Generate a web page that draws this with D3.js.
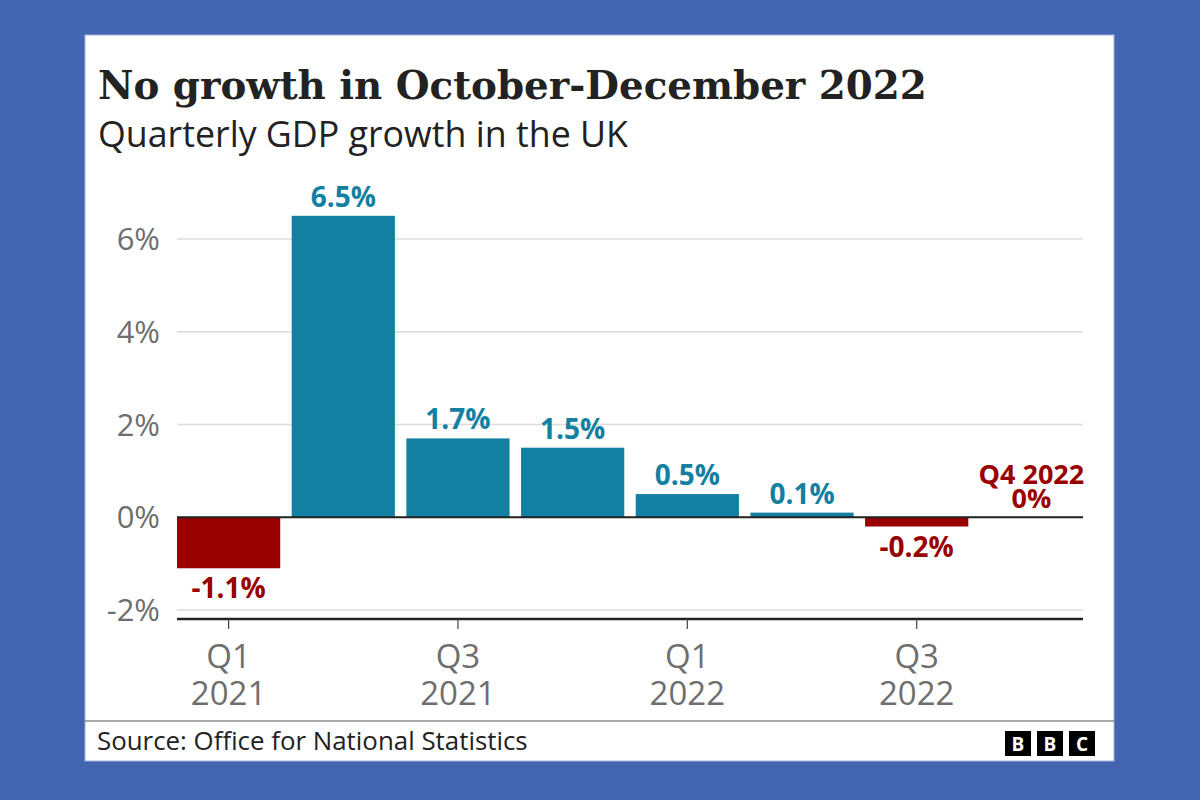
<!DOCTYPE html>
<html lang="en">
<head>
<meta charset="UTF-8">
<title>UK GDP growth</title>
<script src="https://cdn.jsdelivr.net/npm/d3@7"></script>
<style>
  html, body { margin: 0; padding: 0; background: #4365b0; }
  svg { display: block; }
</style>
</head>
<body>
<svg width="1200" height="800"></svg>
<script>
// data
var quarters = ["Q1 2021", "Q2 2021", "Q3 2021", "Q4 2021", "Q1 2022", "Q2 2022", "Q3 2022", "Q4 2022"];
var growth = [-1.1, 6.5, 1.7, 1.5, 0.5, 0.1, -0.2, 0];
var valueLabels = ["-1.1%", "6.5%", "1.7%", "1.5%", "0.5%", "0.1%", "-0.2%", "0%"];
var yTicks = [-2, 0, 2, 4, 6];
var xTickQuarters = ["Q1 2021", "Q3 2021", "Q1 2022", "Q3 2022"];

var svg = d3.select("svg");
var teal = "#1380a1", red = "#990000";

// white card
svg.append("rect").attr("x", 85).attr("y", 35).attr("width", 1029).attr("height", 726)
  .attr("fill", "#fff").attr("stroke", "#9fb4e0").attr("stroke-width", 1);

// fit a text to a width by adjusting font size
function fitWidth(sel, w) {
  var len = sel.node().getComputedTextLength();
  var fs = parseFloat(sel.attr("font-size"));
  sel.attr("font-size", fs * w / len);
}

var title = svg.append("text").attr("x", 98).attr("y", 99)
  .attr("font-family", "'DejaVu Serif', serif").attr("font-weight", "bold")
  .attr("font-size", 40).attr("fill", "#222")
  .text("No growth in October-December 2022");
fitWidth(title, 829);

var sub = svg.append("text").attr("x", 98).attr("y", 147)
  .attr("font-family", "'Open Sans', sans-serif")
  .attr("font-size", 32).attr("fill", "#222")
  .text("Quarterly GDP growth in the UK");
fitWidth(sub, 530);

var x = d3.scaleBand().domain(quarters).range([177, 1083]).paddingInner(0.1).paddingOuter(0);
var y = d3.scaleLinear().domain([-2, 6]).range([610, 239]);

var g = svg.append("g");

// gridlines
g.selectAll(".grid").data(yTicks).enter().append("line")
  .attr("x1", 177).attr("x2", 1083)
  .attr("y1", function (d) { return y(d); }).attr("y2", function (d) { return y(d); })
  .attr("stroke", "#dcdcdc").attr("stroke-width", 1.5);

// y tick labels
g.selectAll(".ylab").data(yTicks).enter().append("text")
  .attr("x", 160).attr("y", function (d) { return y(d); }).attr("dy", "0.36em")
  .attr("text-anchor", "end").attr("font-family", "'Open Sans', sans-serif")
  .attr("font-size", 31).attr("fill", "#6e6e6e")
  .text(function (d) { return d + "%"; });

// bars
g.selectAll(".bar").data(growth).enter().append("rect")
  .attr("x", function (d, i) { return x(quarters[i]); })
  .attr("width", x.bandwidth())
  .attr("y", function (d) { return y(Math.max(0, d)); })
  .attr("height", function (d) { return Math.abs(y(d) - y(0)); })
  .attr("fill", function (d) { return d < 0 ? red : teal; });

// zero line
g.append("line").attr("x1", 177).attr("x2", 1083).attr("y1", y(0)).attr("y2", y(0))
  .attr("stroke", "#222").attr("stroke-width", 2);

// value labels
growth.forEach(function (d, i) {
  if (i === growth.length - 1) return;
  var cx = x(quarters[i]) + x.bandwidth() / 2;
  g.append("text").attr("x", cx)
    .attr("y", d < 0 ? y(d) + 30 : y(d) - 9)
    .attr("text-anchor", "middle").attr("font-family", "'Open Sans', sans-serif")
    .attr("font-weight", "bold").attr("font-size", 28)
    .attr("fill", d < 0 ? red : teal)
    .text(valueLabels[i]);
});
// last quarter annotation
var lastX = x(quarters[7]) + x.bandwidth() / 2;
[quarters[7], valueLabels[7]].forEach(function (s, k) {
  g.append("text").attr("text-anchor", "middle")
    .attr("x", lastX).attr("y", y(0) - 33 + k * 24)
    .attr("font-family", "'Open Sans', sans-serif").attr("font-weight", "bold")
    .attr("font-size", 27).attr("fill", red).text(s);
});

// bottom axis
var axisY = 619;
g.append("line").attr("x1", 177).attr("x2", 1083).attr("y1", axisY).attr("y2", axisY)
  .attr("stroke", "#222").attr("stroke-width", 2.5);
xTickQuarters.forEach(function (q) {
  var cx = x(q) + x.bandwidth() / 2;
  g.append("line").attr("x1", cx).attr("x2", cx).attr("y1", axisY).attr("y2", axisY + 10)
    .attr("stroke", "#444").attr("stroke-width", 1.2);
  q.split(" ").forEach(function (p, k) {
    g.append("text").attr("text-anchor", "middle")
      .attr("x", cx).attr("y", 668 + k * 37)
      .attr("font-family", "'Open Sans', sans-serif").attr("font-size", 33).attr("fill", "#6e6e6e")
      .text(p);
  });
});

// footer
svg.append("line").attr("x1", 85).attr("x2", 1114).attr("y1", 721).attr("y2", 721)
  .attr("stroke", "#555").attr("stroke-width", 1);
var src = svg.append("text").attr("x", 97).attr("y", 750)
  .attr("font-family", "'Open Sans', sans-serif").attr("font-size", 22).attr("fill", "#222")
  .text("Source: Office for National Statistics");
fitWidth(src, 431);

["B", "B", "C"].forEach(function (c, i) {
  var bx = 1005 + i * 32;
  svg.append("rect").attr("x", bx).attr("y", 731).attr("width", 26).attr("height", 25).attr("fill", "#000");
  svg.append("text").attr("x", bx + 13).attr("y", 744).attr("dy", "0.36em")
    .attr("text-anchor", "middle").attr("font-family", "'Open Sans', sans-serif")
    .attr("font-weight", "bold").attr("font-size", 19).attr("fill", "#fff").text(c);
});
</script>
</body>
</html>
